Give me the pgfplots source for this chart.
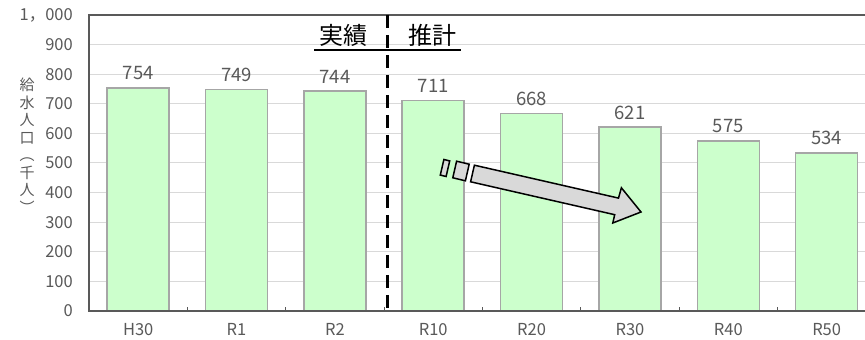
\documentclass[border=0pt]{standalone}
\usepackage{pgfplots}
\pgfplotsset{compat=1.18}
\usepackage{pgfplotstable}
\usepackage{fontspec}
\setmainfont{Noto Sans CJK JP}

\definecolor{barfill}{HTML}{CCFFCC}
\definecolor{barline}{HTML}{A6A6A6}
\definecolor{gridc}{HTML}{D9D9D9}
\definecolor{txt}{HTML}{595959}
\definecolor{axc}{HTML}{595959}
\definecolor{arrowfill}{HTML}{D9D9D9}

% population served by the water supply (thousand people)
\pgfplotstableread{
x val
0 754
1 749
2 744
3 711
4 668
5 621
6 575
7 534
}\popdata

\begin{document}
\begin{tikzpicture}
\useasboundingbox (0,0) rectangle (865bp,340bp);
\begin{axis}[
  at={(89bp,29bp)}, anchor=south west,
  scale only axis, width=776bp, height=296bp,
  xmin=-0.5, xmax=7.39, ymin=0, ymax=1000,
  ybar, bar width=62bp,
  axis line style={draw=none},
  clip=false,
  /pgf/number format/assume math mode=true,
  ytick={0,100,...,1000},
  yticklabels={0,100,200,300,400,500,600,700,800,900,1，000},
  ytick style={draw=none},
  ytick pos=left,
  yticklabel style={font=\fontsize{16.5bp}{19bp}\selectfont, text=txt, inner sep=0pt, xshift=-16bp},
  ymajorgrids, major grid style={gridc, line width=1bp},
  xtick={0.5,1.5,...,6.5},
  xticklabels={},
  xtick pos=left,
  tick align=inside,
  major tick length=4bp,
  xtick style={axc, line width=1bp},
  extra x ticks={0,...,7},
  extra x tick labels={H30,R1,R2,R10,R20,R30,R40,R50},
  extra x tick style={tick style={draw=none}},
  xticklabel style={font=\fontsize{16.5bp}{19bp}\selectfont, text=txt, anchor=north, inner sep=0pt, yshift=-12bp},
]
\addplot[fill=barfill, draw=barline, line width=1.5bp,
  nodes near coords,
  nodes near coords style={font=\fontsize{18.5bp}{22bp}\selectfont, text=txt, anchor=south, inner sep=0pt, yshift=7bp}]
  table[x=x, y=val] {\popdata};

% frame: left, top and bottom lines
\draw[axc, line width=1.5bp] (rel axis cs:1,1) -- (rel axis cs:0,1) -- (rel axis cs:0,0) -- (rel axis cs:1,0);
% boundary between actual and projected values
\draw[black, line width=3bp, dash pattern=on 13bp off 7bp] (axis cs:2.53,1000) -- (axis cs:2.53,0);
\end{axis}

\begin{scope}[x=1bp, y=-1bp, yshift=340bp]
  % axis title, characters stacked vertically
  \node[text=txt, align=center, inner sep=0pt,
        font=\fontsize{15bp}{17.5bp}\selectfont] at (27,145.5)
        {給\\水\\人\\口\\︵\\千\\人\\︶};
  % section headings
  \node[font=\fontsize{24bp}{28bp}\selectfont, inner sep=0pt] at (343,35) {実績};
  \node[font=\fontsize{24bp}{28bp}\selectfont, inner sep=0pt] at (432,35) {推計};
  \draw[black, line width=2bp] (314,50) -- (461,50);
  % downward trend arrow
  \begin{scope}[draw=black, line width=1.5bp, fill=arrowfill, line join=miter]
    \filldraw (443.9,159.5) -- (449.7,160.9) -- (446.1,176.5) -- (440.3,175.1) -- cycle;
    \filldraw (456.6,161.2) -- (469.2,164.2) -- (465.4,180.8) -- (452.8,177.8) -- cycle;
    \filldraw (474.4,165.2) -- (618.5,198.1) -- (621.4,187.8) -- (641,212)
              -- (612.8,223) -- (614.7,214.7) -- (470.6,181.8) -- cycle;
  \end{scope}
\end{scope}
\end{tikzpicture}
\end{document}
